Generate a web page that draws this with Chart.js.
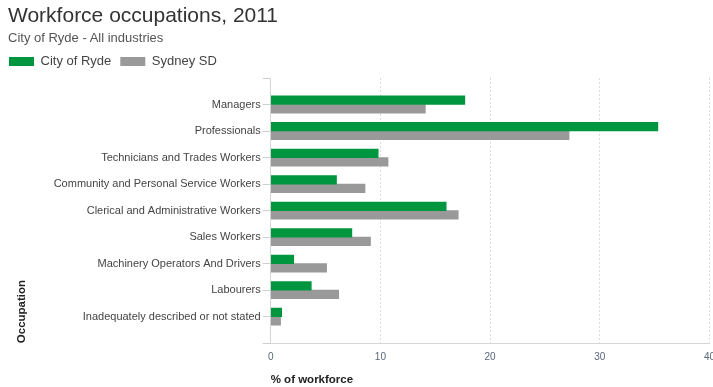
<!DOCTYPE html>
<html>
<head>
<meta charset="utf-8">
<script src="https://cdn.jsdelivr.net/npm/chart.js@4"></script>
<style>
    html, body { margin: 0; padding: 0; background: #fff; overflow: hidden; }
    #wrap { position: relative; width: 723px; height: 387px; }
    .title { position: absolute; left: 8px; top: 4px; font: 21px "Liberation Sans", Arial, sans-serif; line-height: 21px; color: #333; white-space: nowrap; }
    .subtitle { position: absolute; left: 8px; top: 31px; font: 13px "Liberation Sans", Arial, sans-serif; line-height: 13px; color: #555; white-space: nowrap; }
</style>
</head>
<body>
<div id="wrap">
    <canvas id="occChart"></canvas>
    <div class="title">Workforce occupations, 2011</div>
    <div class="subtitle">City of Ryde - All industries</div>
</div>
<script>
// data (% of workforce)
const occupations = [
    'Managers',
    'Professionals',
    'Technicians and Trades Workers',
    'Community and Personal Service Workers',
    'Clerical and Administrative Workers',
    'Sales Workers',
    'Machinery Operators And Drivers',
    'Labourers',
    'Inadequately described or not stated'
];
const rydeValues = [17.7, 35.3, 9.8, 6.0, 16.0, 7.4, 2.1, 3.7, 1.0];
const sydneyValues = [14.1, 27.2, 10.7, 8.6, 17.1, 9.1, 5.1, 6.2, 0.9];
const xTicks = [0, 10, 20, 30, 40];

const FONT = '"Liberation Sans", Arial, sans-serif';

const canvas = document.getElementById('occChart');
canvas.width = 723;
canvas.height = 387;

new Chart(canvas, {
    type: 'bar',
    data: {
        labels: occupations,
        datasets: [
            {
                label: 'City of Ryde',
                data: rydeValues,
                backgroundColor: '#00963f',
                barThickness: 8.6,
            },
            {
                label: 'Sydney SD',
                data: sydneyValues,
                backgroundColor: '#999999',
                barThickness: 8.6,
            },
        ],
    },
    options: {
        indexAxis: 'y',
        responsive: false,
        animation: false,
        layout: { padding: { top: 46, left: 0, right: 0, bottom: 0 } },
        plugins: {
            legend: {
                position: 'top',
                align: 'start',
                labels: {
                    boxWidth: 25,
                    boxHeight: 9,
                    padding: 9,
                    color: '#444',
                    font: { family: FONT, size: 13 },
                },
            },
            tooltip: { enabled: false },
        },
        scales: {
            x: {
                min: 0,
                max: 40,
                afterBuildTicks: (scale) => {
                    scale.ticks = xTicks.map(v => ({ value: v }));
                },
                grid: {
                    color: '#dcdcdc',
                    drawTicks: false,
                },
                border: { color: '#d6d6d6', dash: [2, 2] },
                ticks: {
                    color: '#5a6678',
                    padding: 8,
                    font: { family: FONT, size: 10 },
                },
                title: {
                    display: true,
                    text: '% of workforce',
                    align: 'start',
                    color: '#222',
                    font: { family: FONT, size: 11.5, weight: 'bold' },
                    padding: { top: 2, bottom: 0 },
                },
            },
            y: {
                offset: false,
                // half a band of empty space above and below the categories
                afterBuildTicks: (scale) => {
                    const ticks = [];
                    for (let v = -1; v <= occupations.length; v++) ticks.push({ value: v });
                    scale.ticks = ticks;
                    scale._startValue = -1;
                    scale._valueRange = occupations.length + 1;
                },
                afterFit: (scale) => { scale.width = 270.7; },
                grid: {
                    drawOnChartArea: false,
                    offset: false,
                    tickLength: 8,
                    tickColor: '#cfcfcf',
                },
                border: { color: '#d6d6d6' },
                ticks: {
                    autoSkip: false,
                    color: '#444',
                    padding: 2,
                    font: { family: FONT, size: 11 },
                    callback: (v) => occupations[v] ?? '',
                },
                title: {
                    display: true,
                    text: 'Occupation',
                    align: 'start',
                    color: '#222',
                    font: { family: FONT, size: 11.5, weight: 'bold' },
                    padding: { top: 15, bottom: 0 },
                },
            },
        },
    },
});
</script>
</body>
</html>
